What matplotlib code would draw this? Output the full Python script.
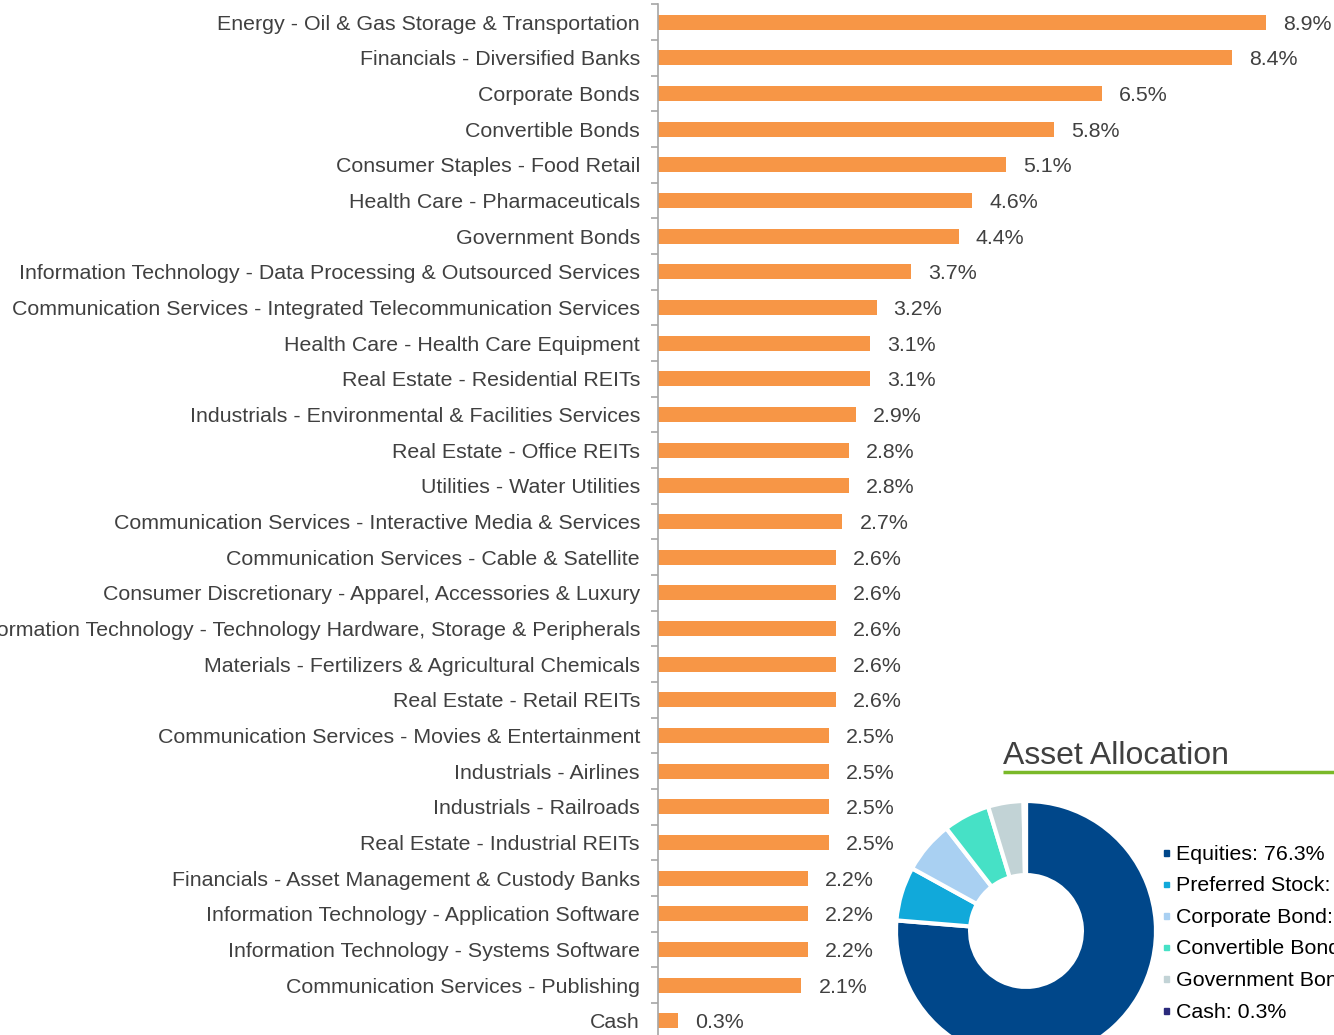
import matplotlib
matplotlib.use("Agg")
import matplotlib.pyplot as plt
from matplotlib.patches import Rectangle

categories = [
    "Energy - Oil & Gas Storage & Transportation",
    "Financials - Diversified Banks",
    "Corporate Bonds",
    "Convertible Bonds",
    "Consumer Staples - Food Retail",
    "Health Care - Pharmaceuticals",
    "Government Bonds",
    "Information Technology - Data Processing & Outsourced Services",
    "Communication Services - Integrated Telecommunication Services",
    "Health Care - Health Care Equipment",
    "Real Estate - Residential REITs",
    "Industrials - Environmental & Facilities Services",
    "Real Estate - Office REITs",
    "Utilities - Water Utilities",
    "Communication Services - Interactive Media & Services",
    "Communication Services - Cable & Satellite",
    "Consumer Discretionary - Apparel, Accessories & Luxury",
    "Information Technology - Technology Hardware, Storage & Peripherals",
    "Materials - Fertilizers & Agricultural Chemicals",
    "Real Estate - Retail REITs",
    "Communication Services - Movies & Entertainment",
    "Industrials - Airlines",
    "Industrials - Railroads",
    "Real Estate - Industrial REITs",
    "Financials - Asset Management & Custody Banks",
    "Information Technology - Application Software",
    "Information Technology - Systems Software",
    "Communication Services - Publishing",
    "Cash",
]
values = [8.9, 8.4, 6.5, 5.8, 5.1, 4.6, 4.4, 3.7, 3.2, 3.1, 3.1, 2.9, 2.8, 2.8,
          2.7, 2.6, 2.6, 2.6, 2.6, 2.6, 2.5, 2.5, 2.5, 2.5, 2.2, 2.2, 2.2, 2.1, 0.3]

alloc_labels = ["Equities", "Preferred Stock", "Corporate Bond",
                "Convertible Bond", "Government Bond", "Cash"]
alloc_values = [76.3, 6.7, 6.5, 5.8, 4.4, 0.3]
alloc_colors = ["#00478A", "#11A9DA", "#A9D0F2", "#46E1C6", "#C2D3D6", "#2B2A7C"]

W, H = 1334, 1035
fig = plt.figure(figsize=(W / 100, H / 100), dpi=100)
FONT = "Liberation Sans"
TXT = "#404040"
FS = 15.4

# ---- bar chart ----
x0 = 658
top_px, bot_px = 4.2, 1038.8
ax = fig.add_axes([x0 / W, 1 - bot_px / H, (W - x0) / W, (bot_px - top_px) / H])
n = len(categories)
ypos = list(range(n))
ax.barh(ypos, values, height=0.42, color="#F79646", zorder=2)
ax.set_ylim(n - 0.5, -0.5)
px_per_unit = 68.3
ax.set_xlim(0, (W - x0) / px_per_unit)
ax.set_yticks(ypos)
ax.set_yticklabels(categories, fontsize=FS, color=TXT, family=FONT)
ax.tick_params(axis="y", which="major", length=0, pad=13)
ax.set_yticks([i + 0.5 for i in range(-1, n)], minor=True)
ax.tick_params(axis="y", which="minor", length=5, color="#A6A6A6", width=1.2)
ax.set_xticks([])
for s in ["top", "right", "bottom"]:
    ax.spines[s].set_visible(False)
ax.spines["left"].set_color("#A6A6A6")
ax.spines["left"].set_linewidth(1.2)
for y, v in zip(ypos, values):
    ax.annotate(f"{v:.1f}%", (v, y), xytext=(17, -2), textcoords="offset pixels",
                va="center", ha="left", fontsize=FS, color=TXT, family=FONT,
                annotation_clip=False)

# ---- donut ----
cx, cy, r = 1026, 931, 130
axp = fig.add_axes([(cx - r) / W, 1 - (cy + r) / H, 2 * r / W, 2 * r / H])
axp.pie(alloc_values, colors=alloc_colors, startangle=90, counterclock=False,
        radius=1, wedgeprops=dict(width=0.57, edgecolor="white", linewidth=3))
axp.set_xlim(-1, 1)
axp.set_ylim(-1, 1)
axp.set_aspect("auto")
axp.axis("off")

# ---- overlay for title and legend ----
ov = fig.add_axes([0, 0, 1, 1], zorder=5)
ov.set_xlim(0, W)
ov.set_ylim(H, 0)
ov.axis("off")
ov.text(1003, 756, "Asset Allocation", fontsize=23, color=TXT, family=FONT,
        va="center", ha="left")
ov.plot([1003, W], [771.5, 771.5], color="#7AB929", lw=2.5, solid_capstyle="butt")
for i, (lab, val, col) in enumerate(zip(alloc_labels, alloc_values, alloc_colors)):
    yy = 853 + i * 31.6
    ov.add_patch(Rectangle((1163.5, yy - 3), 5.5, 5.5, color=col))
    ov.text(1176, yy + 1, f"{lab}: {val:.1f}%", fontsize=FS, color="black",
            family=FONT, va="center", ha="left")

fig.savefig("out.png", dpi=100)
